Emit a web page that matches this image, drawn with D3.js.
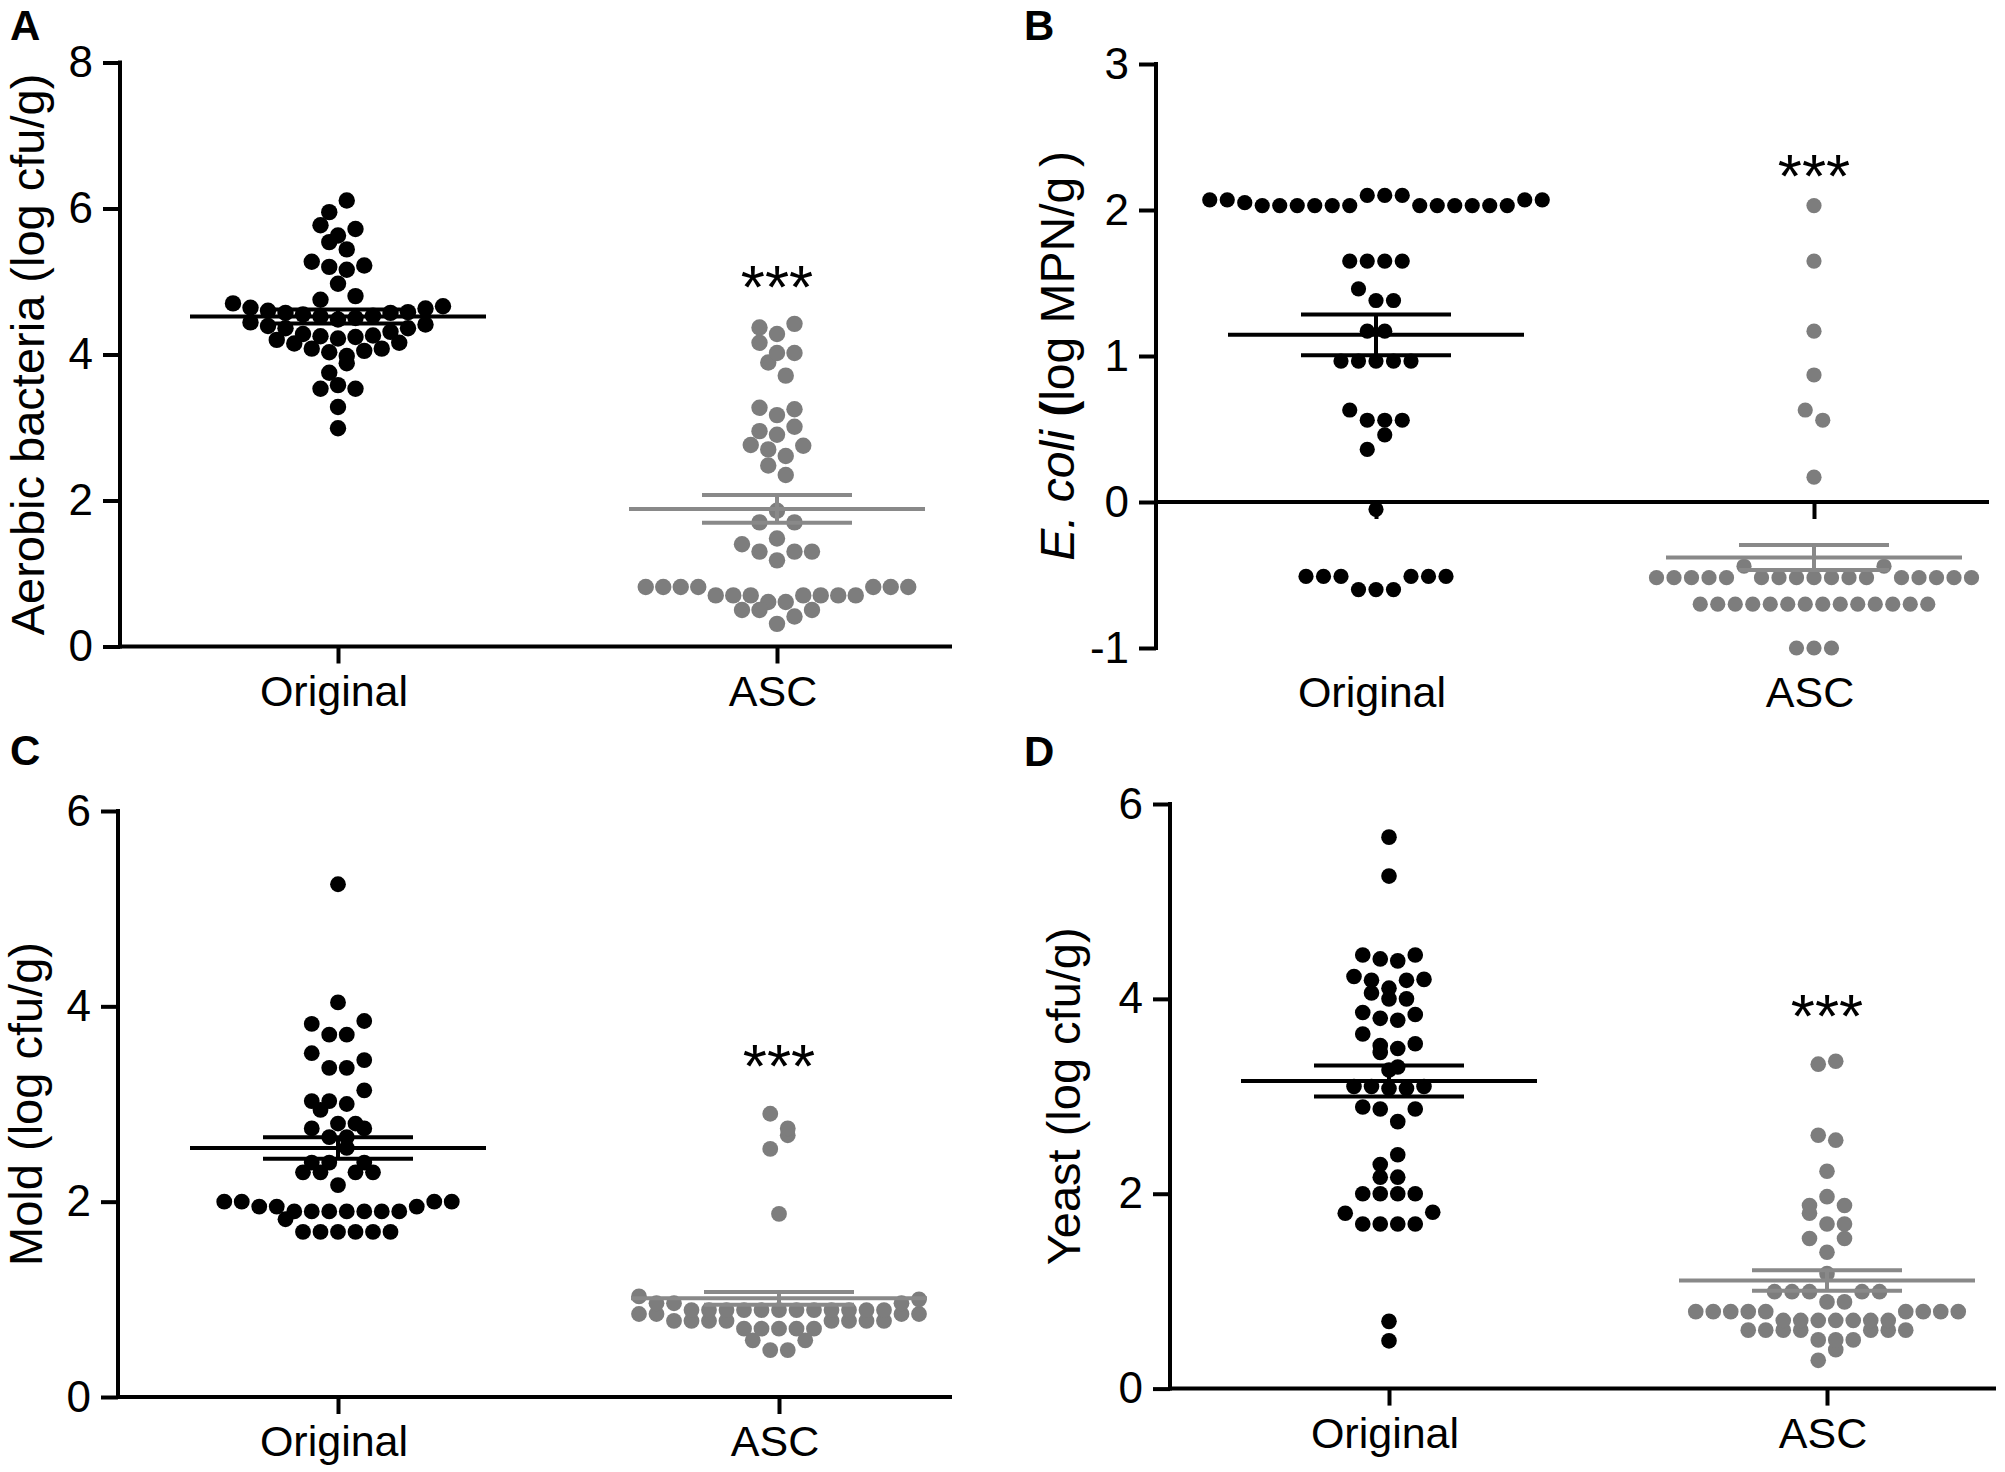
<!DOCTYPE html>
<html>
<head>
<meta charset="utf-8">
<script src="https://cdn.jsdelivr.net/npm/d3@7"></script>
<style>
  body { margin: 0; background: #fff; }
  svg text { font-family: "Liberation Sans", Arial, sans-serif; fill: #000; }
</style>
</head>
<body>
<svg id="chart" width="2005" height="1472"></svg>
<script>
var groups = ["Original", "ASC"];

// A - aerobic bacteria
var aerobicOriginal = [2.99, 3.28, 3.58, 3.53, 3.53, 3.88, 3.75, 3.98, 4.03, 4.05, 4.08, 4.08, 4.15, 4.16, 4.20,
  4.22, 4.24, 4.25, 4.26, 4.28, 4.31, 4.36, 4.36, 4.39, 4.41, 4.44, 4.48, 4.50, 4.52, 4.53, 4.55, 4.57, 4.57,
  4.58, 4.60, 4.63, 4.64, 4.66, 4.70, 4.97, 4.80, 4.75, 5.16, 5.20, 5.22, 5.27, 5.44, 5.54, 5.63, 5.72, 5.77,
  6.11, 5.95];
var aerobicASC = [0.61, 0.61, 0.70, 0.70, 0.70, 0.70, 0.70, 0.70, 0.70, 0.815, 0.815, 0.815, 0.815, 0.815, 0.815,
  0.815, 0.31, 0.41, 0.50, 0.50, 0.50, 1.18, 1.48, 1.30, 1.30, 1.30, 1.40, 1.86, 1.70, 1.70, 2.35, 2.48, 2.61,
  2.70, 2.75, 2.76, 2.90, 3.01, 2.95, 3.17, 3.25, 3.27, 3.71, 3.89, 4.02, 4.02, 4.16, 4.28, 4.42, 4.37];
var aerobicMean = [4.52, 1.885];
var aerobicSem = [0.095, 0.19];
var aerobicTicks = [0, 2, 4, 6, 8];

// B - E. coli
var ecoliOriginal = [-0.60, -0.60, -0.60, -0.51, -0.51, -0.51, -0.51, -0.51, -0.51, -0.05, 0.46, 0.36, 0.56, 0.56,
  0.56, 0.63, 0.965, 0.965, 0.965, 0.965, 0.965, 1.17, 1.17, 1.38, 1.38, 1.46, 1.65, 1.65, 1.65, 1.65,
  2.10, 2.10, 2.10, 2.03, 2.03, 2.03, 2.03, 2.03, 2.03, 2.03, 2.03, 2.03, 2.03, 2.03, 2.03, 2.05, 2.07, 2.07,
  2.07, 2.07];
var ecoliASC = [-1.0, -1.0, -1.0, -0.70, -0.70, -0.70, -0.70, -0.70, -0.70, -0.70, -0.70, -0.70, -0.70, -0.70,
  -0.70, -0.70, -0.70, -0.518, -0.518, -0.518, -0.518, -0.518, -0.518, -0.518, -0.44, -0.44, -0.518, -0.518,
  -0.518, -0.518, -0.518, -0.518, -0.518, -0.518, -0.518, -0.518, 0.17, 0.56, 0.63, 0.87, 1.17, 1.65, 2.03];
var ecoliMean = [1.145, -0.38];
var ecoliSem = [0.14, 0.086];
var ecoliTicks = [-1, 0, 1, 2, 3];

// C - mold
var moldOriginal = [1.69, 1.69, 1.69, 1.69, 1.69, 1.69, 1.82, 1.90, 1.90, 1.90, 1.90, 1.90, 1.90, 1.90, 1.95, 1.95,
  1.95, 2.0, 2.0, 2.0, 2.0, 2.17, 2.30, 2.30, 2.30, 2.30, 2.55, 2.40, 2.40, 2.40, 2.66, 2.66, 2.75, 2.75, 2.80,
  2.80, 2.94, 3.0, 3.03, 3.14, 3.03, 3.37, 3.37, 3.45, 3.52, 3.71, 3.71, 3.85, 3.82, 4.04, 5.25];
var moldASC = [0.48, 0.48, 0.58, 0.58, 0.70, 0.70, 0.70, 0.70, 0.70, 0.78, 0.78, 0.78, 0.78, 0.78, 0.78, 0.78, 0.78,
  0.85, 0.85, 0.85, 0.85, 0.89, 0.89, 0.89, 0.89, 0.89, 0.89, 0.89, 0.89, 0.89, 0.89, 0.89, 0.89, 0.96, 0.96,
  0.96, 1.0, 1.03, 1.875, 2.68, 2.54, 2.75, 2.90];
var moldMean = [2.55, 1.01];
var moldSem = [0.11, 0.065];
var moldTicks = [0, 2, 4, 6];

// D - yeast
var yeastOriginal = [0.49, 0.69, 1.69, 1.69, 1.69, 1.69, 1.81, 1.80, 2.0, 2.0, 2.0, 2.0, 2.17, 2.17, 2.40, 2.30,
  2.74, 2.87, 2.87, 2.89, 3.08, 3.08, 3.10, 3.10, 3.10, 3.27, 3.30, 3.45, 3.49, 3.52, 3.54, 3.64, 3.78, 3.80,
  3.84, 3.86, 4.0, 4.0, 4.06, 4.11, 4.19, 4.19, 4.20, 4.23, 4.39, 4.41, 4.45, 4.45, 5.26, 5.66];
var yeastASC = [0.40, 0.29, 0.50, 0.50, 0.50, 0.60, 0.60, 0.60, 0.60, 0.60, 0.60, 0.60, 0.70, 0.70, 0.70, 0.70,
  0.70, 0.70, 0.70, 0.79, 0.79, 0.79, 0.79, 0.79, 0.79, 0.79, 0.79, 0.79, 0.89, 0.89, 0.995, 0.995, 0.995,
  0.995, 0.995, 1.18, 1.40, 1.54, 1.54, 1.69, 1.69, 1.80, 1.97, 1.88, 1.88, 2.23, 2.55, 2.60, 3.36, 3.33];
var yeastMean = [3.157, 1.11];
var yeastSem = [0.158, 0.105];
var yeastTicks = [0, 2, 4, 6];

// level (in axis units) where the *** sits over ASC
var starLevel = [5.02, 2.28, 3.46, 3.89];

var colors = { dot: ["#000000", "#7d7d7d"], line: ["#000000", "#898989"] };

var panels = [
  { letter: "A", title: [{ t: "Aerobic bacteria (log cfu/g)" }], titleSize: 47,
    series: [aerobicOriginal, aerobicASC], mean: aerobicMean, sem: aerobicSem, ticks: aerobicTicks,
    axisX: 120, endX: 950, catX: [338, 777], yRange: [646.5, 62.5], base: 0, r: 8.2,
    titleX: 44, letterPos: [10, 40] },
  { letter: "B", title: [{ t: "E. coli", style: "italic" }, { t: " (", weight: "bold" }, { t: "log MPN/g\u2009)" }],
    titleSize: 48,
    series: [ecoliOriginal, ecoliASC], mean: ecoliMean, sem: ecoliSem, ticks: ecoliTicks,
    axisX: 1156, endX: 1987, catX: [1376, 1814], yRange: [648, 64], base: 0, r: 7.6,
    titleX: 1074, letterPos: [1024, 40] },
  { letter: "C", title: [{ t: "Mold (log cfu/g)" }], titleSize: 47,
    series: [moldOriginal, moldASC], mean: moldMean, sem: moldSem, ticks: moldTicks,
    axisX: 118, endX: 950, catX: [338, 779], yRange: [1397, 811], base: 0, r: 7.9,
    titleX: 42, letterPos: [10, 765] },
  { letter: "D", title: [{ t: "Yeast (log cfu/g)" }], titleSize: 47,
    series: [yeastOriginal, yeastASC], mean: yeastMean, sem: yeastSem, ticks: yeastTicks,
    axisX: 1170, endX: 1994, catX: [1389, 1827], yRange: [1388.6, 804], base: 0, r: 7.8,
    titleX: 1080, letterPos: [1024, 766] }
];

var STEP = 17.5, AXW = 4, TICK = 17, STAR = 62;

// Prism-like column scatter: rows of one dot height, filled from the centre outwards
function swarm(values, y, r) {
  var d = 2 * r;
  var pts = values.map(function (v, i) { return { v: v, i: i, py: y(v), dx: 0 }; });
  var order = pts.slice().sort(function (a, b) { return a.py - b.py || a.i - b.i; });
  var bins = [], cur = null;
  order.forEach(function (p) {
    if (!cur || p.py - cur.top >= d - 1e-6) { cur = { top: p.py, pts: [] }; bins.push(cur); }
    cur.pts.push(p);
  });
  bins.forEach(function (b) {
    b.pts.sort(function (a, c) { return a.i - c.i; });
    var n = b.pts.length;
    var slots = d3.range(n).map(function (k) { return k - (n - 1) / 2; });
    slots.sort(function (a, c) { return Math.abs(a) - Math.abs(c) || c - a; });
    b.pts.forEach(function (p, k) { p.dx = slots[k] * STEP; });
  });
  return pts;
}

var svg = d3.select("#chart");

panels.forEach(function (p, pi) {
  var g = svg.append("g");
  var lo = d3.min(p.ticks), hi = d3.max(p.ticks);
  var y = d3.scaleLinear().domain([lo, hi]).range(p.yRange);
  var x = d3.scalePoint().domain(groups).range(p.catX);

  // dots
  p.series.forEach(function (vals, gi) {
    var pts = swarm(vals, y, p.r);
    g.append("g").selectAll("circle")
      .data(pts)
      .enter()
      .append("circle")
      .attr("cx", function (d) { return x(groups[gi]) + d.dx; })
      .attr("cy", function (d) { return d.py; })
      .attr("r", p.r)
      .attr("fill", colors.dot[gi]);
  });

  // mean and SEM bars
  groups.forEach(function (name, gi) {
    var cx = x(name), m = p.mean[gi], s = p.sem[gi];
    var lg = g.append("g").attr("stroke", colors.line[gi]).attr("stroke-width", AXW);
    lg.append("line").attr("x1", cx - 148).attr("x2", cx + 148).attr("y1", y(m)).attr("y2", y(m));
    lg.append("line").attr("x1", cx - 75).attr("x2", cx + 75).attr("y1", y(m + s)).attr("y2", y(m + s));
    lg.append("line").attr("x1", cx - 75).attr("x2", cx + 75).attr("y1", y(m - s)).attr("y2", y(m - s));
    lg.append("line").attr("x1", cx).attr("x2", cx).attr("y1", y(m + s)).attr("y2", y(m - s));
  });

  // y axis
  var yAxis = g.append("g")
    .attr("transform", "translate(" + p.axisX + ",0)")
    .call(d3.axisLeft(y).tickValues(p.ticks).tickSize(TICK).tickSizeOuter(0).tickPadding(10)
      .tickFormat(function (d) { return String(d); }));
  yAxis.select(".domain").remove();
  yAxis.selectAll(".tick line").attr("stroke", "#000").attr("stroke-width", AXW);
  yAxis.selectAll(".tick text").attr("font-size", 44).attr("font-family", "Liberation Sans, Arial, sans-serif");
  g.append("line")
    .attr("x1", p.axisX).attr("x2", p.axisX)
    .attr("y1", y(lo)).attr("y2", y(hi))
    .attr("stroke", "#000").attr("stroke-width", AXW).attr("stroke-linecap", "square");

  // x axis at base value
  var xAxis = g.append("g")
    .attr("transform", "translate(0," + y(p.base) + ")")
    .call(d3.axisBottom(x).tickSize(TICK).tickSizeOuter(0).tickFormat(""));
  xAxis.select(".domain").remove();
  xAxis.selectAll(".tick line").attr("stroke", "#000").attr("stroke-width", AXW);
  g.append("line")
    .attr("x1", p.axisX).attr("x2", p.endX)
    .attr("y1", y(p.base)).attr("y2", y(p.base))
    .attr("stroke", "#000").attr("stroke-width", AXW).attr("stroke-linecap", "square");

  // category labels below the plot
  g.selectAll("text.cat")
    .data(groups)
    .enter()
    .append("text")
    .attr("class", "cat")
    .attr("x", function (d) { return x(d) - 4; })
    .attr("y", y(lo) + 59)
    .attr("text-anchor", "middle")
    .attr("font-size", 43)
    .text(function (d) { return d; });

  // axis title
  var t = g.append("text")
    .attr("transform", "translate(" + p.titleX + "," + (y(lo) + y(hi)) / 2 + ") rotate(-90)")
    .attr("text-anchor", "middle")
    .attr("font-size", p.titleSize);
  p.title.forEach(function (s) {
    t.append("tspan")
      .attr("font-style", s.style || "normal")
      .attr("font-weight", s.weight || "normal")
      .text(s.t);
  });

  // significance
  g.append("text")
    .attr("x", x("ASC"))
    .attr("y", y(starLevel[pi]) + 0.575 * STAR - 8)
    .attr("text-anchor", "middle")
    .attr("font-size", STAR)
    .text("***");

  // panel letter
  g.append("text")
    .attr("x", p.letterPos[0])
    .attr("y", p.letterPos[1])
    .attr("font-size", 42)
    .attr("font-weight", "bold")
    .text(p.letter);
});
</script>
</body>
</html>
